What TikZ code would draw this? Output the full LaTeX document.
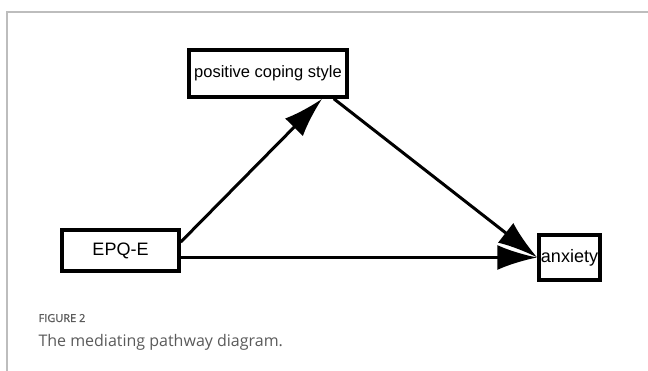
\documentclass[tikz,border=0pt]{standalone}
\usepackage{fontspec}
\setmainfont{Liberation Sans}
\newfontfamily\capfont{Open Sans}
\newfontfamily\capheadfont[FakeBold=1.2]{Open Sans}
\usetikzlibrary{arrows.meta}
\definecolor{framegray}{HTML}{BDBDBD}
\definecolor{capgray}{HTML}{5A5A5A}

\begin{document}
\begin{tikzpicture}[x=1pt, y=-1pt,
  varbox/.style={draw, line width=3.5pt, inner sep=0.5pt,
    font=\fontsize{18}{21}\selectfont},
  arrow/.style={-{Latex[length=40pt, width=25pt]}, line width=3pt},
  caphead/.style={anchor=base west, text=capgray,
    font=\capheadfont\fontsize{11}{13}\selectfont},
  captext/.style={anchor=base west, text=capgray,
    font=\capfont\fontsize{16}{19}\selectfont}
 ]
\useasboundingbox (0,0) rectangle (648,371);
\draw[framegray, line width=1.5pt] (7,371) -- (7,12) -- (648,12);

\node[varbox, minimum width=158pt, minimum height=47pt,
  font=\fontsize{16.5}{20}\selectfont] (coping) at (268,73.5) {positive coping style};
\node[varbox, minimum width=117pt, minimum height=41pt] (epq) at (120.5,250.5) {EPQ-E};
\node[varbox, minimum width=61pt, minimum height=45pt] (anxiety) at (569.5,257.5) {anxiety};

\draw[arrow] (epq.8) -- (coping.-25);
\draw[arrow] (coping.-21) -- (anxiety.west);
\draw[arrow] (epq.east |- anxiety.west) -- (anxiety.west);

\node[caphead] (fig) at (35,322) {FIGURE 2};
\node[captext] (caption) at (35,346) {The mediating pathway diagram.};
\end{tikzpicture}
\end{document}
